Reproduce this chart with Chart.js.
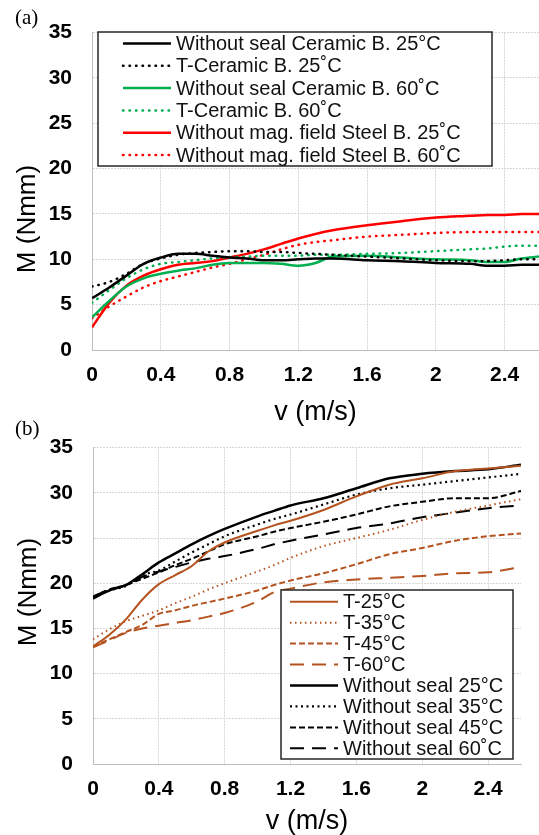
<!DOCTYPE html>
<html>
<head>
<meta charset="utf-8">
<script src="https://cdn.jsdelivr.net/npm/chart.js@4.4.1/dist/chart.umd.min.js"></script>
<style>
  html, body { margin: 0; padding: 0; background: #fff; overflow: hidden; }
  #wrap { position: relative; width: 539px; height: 835px; }
  canvas { position: absolute; left: 0; }
  #chartA { top: 0; }
  #chartB { top: 415px; }
</style>
</head>
<body>
<div id="wrap">
  <canvas id="chartA" width="539" height="440"></canvas>
  <canvas id="chartB" width="539" height="430"></canvas>
</div>
<script>
// x tick labels (both panels)
const vTicks = [0, 0.4, 0.8, 1.2, 1.6, 2.0, 2.4];

// panel (a): speed samples and torque M (Nmm)
const vTop = [0, 0.1, 0.2, 0.3, 0.4, 0.5, 0.6, 0.7, 0.8, 0.9, 1.0, 1.1, 1.2, 1.3, 1.4, 1.6, 1.8, 2.0, 2.2, 2.3, 2.4, 2.5, 2.6];
const noSealCeramic25 = [5.7, 6.9, 8.2, 9.5, 10.2, 10.6, 10.6, 10.4, 10.2, 10.1, 9.9, 9.9, 10.0, 10.1, 10.1, 9.9, 9.8, 9.6, 9.5, 9.3, 9.3, 9.4, 9.4];
const tCeramic25 = [7.0, 7.5, 8.4, 9.5, 10.1, 10.5, 10.7, 10.8, 10.9, 10.9, 10.8, 10.8, 10.7, 10.6, 10.5, 10.3, 10.1, 9.9, 9.8, 9.8, 9.9, 10.0, 10.0];
const noSealCeramic60 = [3.6, 5.4, 7.0, 7.9, 8.4, 8.75, 9.0, 9.4, 9.6, 9.6, 9.6, 9.5, 9.3, 9.6, 10.3, 10.4, 10.2, 10.0, 9.9, 9.7, 9.7, 10.1, 10.3];
const tCeramic60 = [5.2, 6.6, 7.9, 8.9, 9.5, 9.7, 9.9, 10.1, 10.2, 10.3, 10.4, 10.4, 10.4, 10.5, 10.5, 10.6, 10.7, 10.9, 11.1, 11.2, 11.4, 11.5, 11.5];
const noMagSteel25 = [2.5, 5.2, 7.1, 8.2, 8.9, 9.4, 9.6, 9.8, 10.2, 10.6, 11.1, 11.7, 12.3, 12.8, 13.2, 13.75, 14.2, 14.6, 14.8, 14.9, 14.9, 15.0, 15.0];
const noMagSteel60 = [3.5, 4.8, 5.9, 6.9, 7.6, 8.1, 8.6, 9.1, 9.5, 10.0, 10.5, 11.1, 11.6, 11.9, 12.1, 12.5, 12.7, 12.9, 13.0, 13.0, 13.0, 13.0, 13.0];

// panel (b)
const vBot = [0, 0.1, 0.2, 0.3, 0.4, 0.5, 0.6, 0.7, 0.8, 1.0, 1.1, 1.2, 1.4, 1.6, 1.8, 2.0, 2.2, 2.4, 2.6];
const t25 = [13.0, 14.3, 16.0, 18.2, 19.9, 20.9, 21.9, 23.5, 24.5, 25.8, 26.4, 26.9, 28.1, 29.6, 30.9, 31.6, 32.4, 32.7, 33.0];
const t35 = [13.8, 14.9, 15.8, 16.4, 17.0, 17.8, 18.5, 19.3, 20.0, 21.3, 22.0, 22.8, 24.1, 25.0, 25.9, 27.0, 27.9, 28.6, 29.3];
const t45 = [13.0, 13.8, 14.6, 15.4, 16.6, 17.0, 17.5, 17.9, 18.3, 19.2, 19.8, 20.3, 21.1, 22.1, 23.2, 23.9, 24.7, 25.2, 25.5];
const t60 = [12.9, 13.7, 14.5, 15.0, 15.3, 15.6, 15.9, 16.3, 16.7, 18.0, 19.0, 19.4, 20.1, 20.4, 20.6, 20.8, 21.1, 21.2, 21.8];
const noSeal25 = [18.3, 19.2, 19.8, 21.0, 22.3, 23.3, 24.3, 25.2, 26.0, 27.4, 28.0, 28.6, 29.4, 30.5, 31.6, 32.1, 32.4, 32.6, 33.1];
const noSeal35 = [18.4, 19.2, 19.7, 20.9, 21.4, 22.4, 23.4, 24.3, 25.2, 26.5, 27.1, 27.6, 28.7, 29.8, 30.5, 30.9, 31.3, 31.7, 32.1];
const noSeal45 = [18.5, 19.3, 19.8, 20.5, 21.2, 22.0, 22.7, 23.5, 24.3, 25.2, 25.7, 26.1, 26.8, 27.6, 28.5, 29.0, 29.4, 29.4, 30.2];
const noSeal60 = [18.5, 19.3, 19.8, 20.7, 21.3, 21.8, 22.3, 22.7, 23.0, 23.8, 24.3, 24.7, 25.4, 26.1, 26.6, 27.3, 27.8, 28.3, 28.6];

const BROWN = '#b4531f';
const GREEN = '#00b050';
const RED = '#ff0000';
const DOT = [0.5, 6];

function pts(xs, ys) {
    return xs.map((x, i) => ({ x: x, y: ys[i] }));
}

function line(label, xs, ys, color, dash, width) {
    return {
        label: label,
        data: pts(xs, ys),
        borderColor: color,
        borderWidth: width || 2.5,
        borderDash: dash || [],
        borderCapStyle: dash === DOT ? 'round' : 'butt',
        pointRadius: 0,
        cubicInterpolationMode: 'monotone',
        fill: false
    };
}

// draws panel letter, rotated y title and the boxed legend
const panelDecor = {
    id: 'panelDecor',
    afterDatasetsDraw(chart, args, opts) {
        const ctx = chart.ctx;
        ctx.save();
        ctx.fillStyle = '#000';
        ctx.font = '21px "Liberation Serif"';
        ctx.textAlign = 'left';
        ctx.textBaseline = 'middle';
        ctx.fillText(opts.letter, opts.letterX, opts.letterY);
        ctx.translate(opts.titleX, opts.titleY);
        ctx.rotate(-Math.PI / 2);
        ctx.font = '26px "Liberation Sans"';
        ctx.textAlign = 'center';
        ctx.fillText('M (Nmm)', 0, 0);
        ctx.restore();

        const L = opts.legend;
        ctx.save();
        ctx.fillStyle = '#fff';
        ctx.fillRect(L.x, L.y, L.w, L.h);
        ctx.strokeStyle = '#262626';
        ctx.lineWidth = 1.5;
        ctx.strokeRect(L.x, L.y, L.w, L.h);
        ctx.font = '20px "Liberation Sans"';
        ctx.textAlign = 'left';
        ctx.textBaseline = 'middle';
        chart.data.datasets.forEach((ds, i) => {
            const y = L.row0 + i * L.rowH;
            ctx.beginPath();
            ctx.setLineDash(ds.borderDash);
            ctx.lineCap = ds.borderCapStyle;
            ctx.strokeStyle = ds.borderColor;
            ctx.lineWidth = ds.borderWidth;
            ctx.moveTo(L.s0, y);
            ctx.lineTo(L.s1, y);
            ctx.stroke();
            ctx.setLineDash([]);
            ctx.fillStyle = '#111';
            ctx.fillText(ds.label, L.tx, y + 1);
        });
        ctx.restore();
    }
};

const tickFont = { family: 'Liberation Sans', size: 21, weight: 'bold' };

function makeOptions(cfg) {
    return {
        responsive: false,
        animation: false,
        layout: { padding: cfg.padding },
        plugins: {
            legend: { display: false },
            tooltip: { enabled: false },
            panelDecor: cfg.decor
        },
        scales: {
            x: {
                type: 'linear',
                min: 0,
                max: 2.6,
                afterBuildTicks: ax => { ax.ticks = vTicks.map(v => ({ value: v })); },
                afterFit: ax => { ax.height = cfg.xHeight; },
                ticks: {
                    font: tickFont,
                    color: '#000',
                    padding: 13,
                    maxRotation: 0,
                    callback: v => String(+v.toFixed(1))
                },
                grid: { color: '#d6d6d6', drawTicks: false },
                border: { color: '#bdbdbd', width: 1, dash: [2, 1] },
                title: {
                    display: true,
                    text: 'v (m/s)',
                    color: '#000',
                    font: { family: 'Liberation Sans', size: 27 },
                    padding: { top: 0, bottom: cfg.titlePad }
                }
            },
            y: {
                min: 0,
                max: 35,
                afterFit: ax => { ax.width = cfg.yWidth; },
                ticks: { stepSize: 5, font: tickFont, color: '#000', padding: 20 },
                grid: { color: '#d6d6d6', drawTicks: false },
                border: { color: '#bdbdbd', width: 1, dash: [2, 1] }
            }
        }
    };
}

new Chart(document.getElementById('chartA'), {
    type: 'line',
    data: {
        datasets: [
            line('Without seal Ceramic B. 25°C', vTop, noSealCeramic25, '#000'),
            line('T-Ceramic B. 25˚C', vTop, tCeramic25, '#000', DOT),
            line('Without seal Ceramic B. 60˚C', vTop, noSealCeramic60, GREEN),
            line('T-Ceramic B. 60˚C', vTop, tCeramic60, GREEN, DOT),
            line('Without mag. field Steel B. 25˚C', vTop, noMagSteel25, RED),
            line('Without mag. field Steel B. 60˚C', vTop, noMagSteel60, RED, DOT)
        ]
    },
    options: makeOptions({
        padding: { left: 0, right: 0, top: 23, bottom: 0 },
        xHeight: 90,
        yWidth: 92,
        titlePad: 11,
        decor: {
            letter: '(a)', letterX: 15, letterY: 18,
            titleX: 28, titleY: 219,
            legend: { x: 98, y: 32, w: 394, h: 134, row0: 43.5, rowH: 22.3, s0: 123, s1: 171, tx: 176 }
        }
    }),
    plugins: [panelDecor]
});

new Chart(document.getElementById('chartB'), {
    type: 'line',
    data: {
        datasets: [
            line('T-25°C', vBot, t25, BROWN, [], 2),
            line('T-35°C', vBot, t35, BROWN, [1.5, 3.5], 2),
            line('T-45°C', vBot, t45, BROWN, [6, 3], 2),
            line('T-60°C', vBot, t60, BROWN, [14, 8], 2),
            line('Without seal 25°C', vBot, noSeal25, '#000', [], 2.5),
            line('Without seal 35°C', vBot, noSeal35, '#000', [2, 3.5], 2.2),
            line('Without seal 45°C', vBot, noSeal45, '#000', [6, 3], 2),
            line('Without seal 60˚C', vBot, noSeal60, '#000', [14, 8], 2)
        ]
    },
    options: makeOptions({
        padding: { left: 0, right: 18, top: 27, bottom: 0 },
        xHeight: 81,
        yWidth: 93,
        titlePad: 7,
        decor: {
            letter: '(b)', letterX: 15, letterY: 14,
            titleX: 28.5, titleY: 177,
            legend: { x: 281, y: 175, w: 232, h: 169, row0: 186.7, rowH: 20.95, s0: 290, s1: 338, tx: 343 }
        }
    }),
    plugins: [panelDecor]
});
</script>
</body>
</html>
